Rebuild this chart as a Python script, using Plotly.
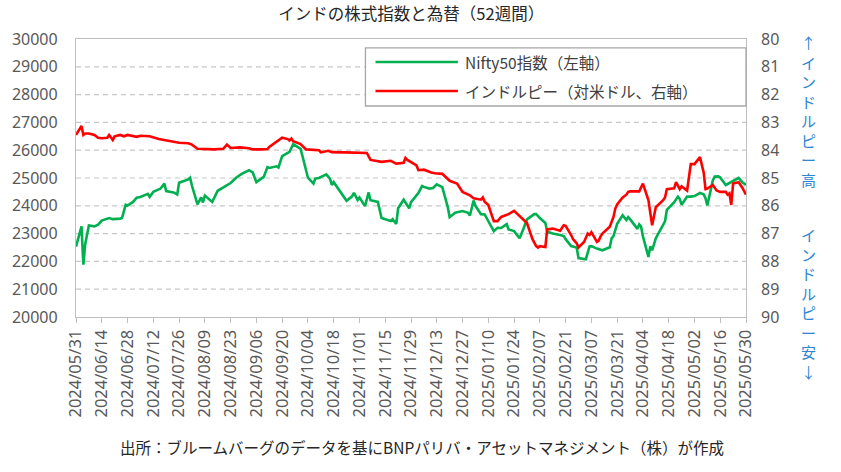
import plotly.graph_objects as go

# Nifty50 index (left axis)
nifty_dates = [
    "2024-05-31", "2024-06-03", "2024-06-04", "2024-06-05", "2024-06-07", "2024-06-10",
    "2024-06-12", "2024-06-14", "2024-06-18", "2024-06-20", "2024-06-24", "2024-06-25",
    "2024-06-27", "2024-06-28", "2024-07-01", "2024-07-03", "2024-07-05", "2024-07-09",
    "2024-07-10", "2024-07-12", "2024-07-16", "2024-07-18", "2024-07-19", "2024-07-23",
    "2024-07-25", "2024-07-26", "2024-07-31", "2024-08-01", "2024-08-02", "2024-08-05",
    "2024-08-07", "2024-08-08", "2024-08-09", "2024-08-13", "2024-08-16", "2024-08-20",
    "2024-08-23", "2024-08-26", "2024-08-29", "2024-09-02", "2024-09-04", "2024-09-06",
    "2024-09-10", "2024-09-12", "2024-09-13", "2024-09-17", "2024-09-18", "2024-09-20",
    "2024-09-24", "2024-09-26", "2024-09-27", "2024-09-30", "2024-10-01", "2024-10-03",
    "2024-10-04", "2024-10-07", "2024-10-08", "2024-10-10", "2024-10-14", "2024-10-16",
    "2024-10-17", "2024-10-18", "2024-10-22", "2024-10-25", "2024-10-28", "2024-10-29",
    "2024-10-31", "2024-11-01", "2024-11-04", "2024-11-06", "2024-11-07", "2024-11-11",
    "2024-11-13", "2024-11-18", "2024-11-19", "2024-11-21", "2024-11-22", "2024-11-25",
    "2024-11-28", "2024-11-29", "2024-12-03", "2024-12-05", "2024-12-06", "2024-12-09",
    "2024-12-11", "2024-12-13", "2024-12-16", "2024-12-18", "2024-12-19", "2024-12-20",
    "2024-12-23", "2024-12-27", "2024-12-30", "2024-12-31", "2025-01-02", "2025-01-03",
    "2025-01-06", "2025-01-08", "2025-01-10", "2025-01-13", "2025-01-15", "2025-01-17",
    "2025-01-20", "2025-01-21", "2025-01-24", "2025-01-27", "2025-01-29", "2025-01-31",
    "2025-02-04", "2025-02-05", "2025-02-07", "2025-02-10", "2025-02-11", "2025-02-14",
    "2025-02-18", "2025-02-20", "2025-02-21", "2025-02-24", "2025-02-27", "2025-02-28",
    "2025-03-04", "2025-03-05", "2025-03-06", "2025-03-07", "2025-03-10", "2025-03-13",
    "2025-03-17", "2025-03-18", "2025-03-19", "2025-03-21", "2025-03-24", "2025-03-26",
    "2025-03-27", "2025-03-28", "2025-04-01", "2025-04-02", "2025-04-03", "2025-04-04",
    "2025-04-07", "2025-04-08", "2025-04-09", "2025-04-11", "2025-04-15", "2025-04-16",
    "2025-04-17", "2025-04-21", "2025-04-23", "2025-04-24", "2025-04-25", "2025-04-28",
    "2025-04-30", "2025-05-02", "2025-05-05", "2025-05-07", "2025-05-08", "2025-05-09",
    "2025-05-12", "2025-05-13", "2025-05-15", "2025-05-16", "2025-05-19", "2025-05-21",
    "2025-05-23", "2025-05-26", "2025-05-28", "2025-05-30",
]
nifty_values = [
    22530, 23260, 21880, 22620, 23290, 23260,
    23320, 23470, 23560, 23520, 23540, 23560,
    24040, 24010, 24140, 24290, 24320, 24430,
    24320, 24500, 24620, 24800, 24530, 24480,
    24410, 24830, 24950, 25010, 24720, 24050,
    24300, 24120, 24370, 24140, 24540, 24700,
    24820, 25010, 25150, 25280, 25200, 24850,
    25040, 25390, 25360, 25420, 25380, 25790,
    25940, 26220, 26180, 26050, 25800, 25250,
    25010, 24800, 24980, 25000, 25130, 24970,
    24750, 24850, 24470, 24180, 24340, 24470,
    24210, 24300, 23990, 24480, 24200, 24140,
    23560, 23450, 23520, 23350, 23910, 24220,
    23910, 24130, 24460, 24710, 24680, 24620,
    24640, 24770, 24670, 24200, 23950, 23590,
    23750, 23810, 23750, 23650, 24190, 24000,
    23700, 23690, 23430, 23090, 23210, 23200,
    23340, 23150, 23090, 22830, 23160, 23510,
    23700, 23700, 23560, 23380, 23070, 23000,
    22950, 22910, 22800, 22550, 22500, 22120,
    22080, 22340, 22540, 22550, 22460, 22400,
    22510, 22830, 22910, 23350, 23660, 23490,
    23590, 23520, 23170, 23330, 23250, 22900,
    22160, 22540, 22400, 22830, 23330, 23440,
    23850, 24130, 24330, 24250, 24040, 24330,
    24330, 24350, 24460, 24410, 24270, 24010,
    24920, 25050, 25060, 25020, 24750, 24820,
    24870, 25000, 24850, 24750,
]

# Indian rupee per US dollar (right axis, reversed)
inr_dates = [
    "2024-05-31", "2024-06-03", "2024-06-04", "2024-06-05", "2024-06-07", "2024-06-10",
    "2024-06-12", "2024-06-14", "2024-06-17", "2024-06-18", "2024-06-20", "2024-06-21",
    "2024-06-24", "2024-06-26", "2024-06-28", "2024-07-03", "2024-07-05", "2024-07-10",
    "2024-07-15", "2024-07-19", "2024-07-24", "2024-07-26", "2024-07-31", "2024-08-02",
    "2024-08-05", "2024-08-09", "2024-08-14", "2024-08-19", "2024-08-21", "2024-08-23",
    "2024-08-28", "2024-09-02", "2024-09-04", "2024-09-09", "2024-09-12", "2024-09-13",
    "2024-09-16", "2024-09-19", "2024-09-20", "2024-09-23", "2024-09-24", "2024-09-25",
    "2024-09-26", "2024-09-30", "2024-10-03", "2024-10-10", "2024-10-11", "2024-10-15",
    "2024-10-17", "2024-10-24", "2024-10-31", "2024-11-05", "2024-11-07", "2024-11-11",
    "2024-11-13", "2024-11-18", "2024-11-21", "2024-11-25", "2024-11-26", "2024-11-27",
    "2024-12-02", "2024-12-03", "2024-12-06", "2024-12-10", "2024-12-12", "2024-12-16",
    "2024-12-18", "2024-12-19", "2024-12-20", "2024-12-24", "2024-12-27", "2024-12-31",
    "2025-01-02", "2025-01-06", "2025-01-07", "2025-01-08", "2025-01-10", "2025-01-13",
    "2025-01-15", "2025-01-17", "2025-01-21", "2025-01-24", "2025-01-27", "2025-01-30",
    "2025-01-31", "2025-02-03", "2025-02-05", "2025-02-06", "2025-02-07", "2025-02-10",
    "2025-02-11", "2025-02-14", "2025-02-18", "2025-02-20", "2025-02-21", "2025-02-24",
    "2025-02-25", "2025-02-27", "2025-02-28", "2025-03-03", "2025-03-05", "2025-03-06",
    "2025-03-07", "2025-03-10", "2025-03-11", "2025-03-12", "2025-03-13", "2025-03-17",
    "2025-03-18", "2025-03-19", "2025-03-20", "2025-03-21", "2025-03-24", "2025-03-26",
    "2025-03-27", "2025-03-28", "2025-04-02", "2025-04-04", "2025-04-07", "2025-04-08",
    "2025-04-09", "2025-04-11", "2025-04-15", "2025-04-16", "2025-04-17", "2025-04-21",
    "2025-04-22", "2025-04-24", "2025-04-25", "2025-04-28", "2025-04-29", "2025-04-30",
    "2025-05-02", "2025-05-05", "2025-05-07", "2025-05-08", "2025-05-09", "2025-05-12",
    "2025-05-14", "2025-05-16", "2025-05-19", "2025-05-20", "2025-05-21", "2025-05-22",
    "2025-05-23", "2025-05-26", "2025-05-28", "2025-05-30",
]
inr_values = [
    83.45, 83.13, 83.45, 83.40, 83.40, 83.45,
    83.55, 83.57, 83.55, 83.45, 83.63, 83.50,
    83.45, 83.50, 83.45, 83.52, 83.48, 83.50,
    83.60, 83.65, 83.70, 83.73, 83.75, 83.80,
    83.95, 83.97, 83.97, 83.95, 83.80, 83.92,
    83.90, 83.93, 83.97, 83.97, 83.96, 83.88,
    83.75, 83.60, 83.55, 83.60, 83.65, 83.58,
    83.68, 83.78, 83.97, 84.00, 84.08, 84.02,
    84.07, 84.08, 84.08, 84.10, 84.35, 84.38,
    84.42, 84.38, 84.48, 84.45, 84.28, 84.35,
    84.55, 84.72, 84.70, 84.80, 84.83, 84.85,
    84.97, 85.05, 85.10, 85.20, 85.50, 85.62,
    85.73, 85.78, 85.70, 85.85, 85.97, 86.55,
    86.55, 86.40, 86.30, 86.18, 86.38, 86.55,
    86.62, 87.20, 87.45, 87.50, 87.45, 87.48,
    86.85, 86.82, 86.90, 86.70, 86.72, 87.05,
    87.20, 87.35, 87.50, 87.30, 87.00, 87.05,
    86.95, 87.30, 87.25, 87.10, 87.00, 86.75,
    86.60, 86.40, 86.10, 85.95, 85.70, 85.60,
    85.50, 85.48, 85.48, 85.20, 85.80, 86.25,
    86.70, 86.05, 85.80, 85.70, 85.40, 85.37,
    85.15, 85.40, 85.30, 85.45, 85.00, 84.50,
    84.50, 84.25, 84.80, 85.40, 85.38, 85.25,
    85.45, 85.50, 85.50, 85.60, 85.55, 85.97,
    85.20, 85.15, 85.35, 85.60,
]

tick_labels = [
    "2024/05/31", "2024/06/14", "2024/06/28", "2024/07/12", "2024/07/26", "2024/08/09",
    "2024/08/23", "2024/09/06", "2024/09/20", "2024/10/04", "2024/10/18", "2024/11/01",
    "2024/11/15", "2024/11/29", "2024/12/13", "2024/12/27", "2025/01/10", "2025/01/24",
    "2025/02/07", "2025/02/21", "2025/03/07", "2025/03/21", "2025/04/04", "2025/04/18",
    "2025/05/02", "2025/05/16", "2025/05/30",
]
tick_vals = [t.replace("/", "-") for t in tick_labels]
left_ticks = list(range(20000, 30001, 1000))

GREEN = "#00B050"
RED = "#FF0000"
BLUE = "#2E86D1"
GREY_TXT = "#595959"
JP = "Noto Sans CJK JP"

fig = go.Figure()
fig.add_trace(go.Scatter(x=nifty_dates, y=nifty_values, mode="lines",
                         line=dict(color=GREEN, width=2.6), name="Nifty50指数（左軸）"))
fig.add_trace(go.Scatter(x=inr_dates, y=inr_values, mode="lines", yaxis="y2",
                         line=dict(color=RED, width=2.6), name="インドルピー（対米ドル、右軸）"))

fig.update_layout(
    width=841, height=472, autosize=False,
    margin=dict(l=70, r=95, t=39, b=155),
    paper_bgcolor="white", plot_bgcolor="white",
    showlegend=False,
    font=dict(family=JP, color=GREY_TXT),
    title=dict(text="インドの株式指数と為替（52週間）", x=0.489, y=0.97,
               xanchor="center", yanchor="middle",
               font=dict(family=JP, size=16.5, color="#262626")),
    xaxis=dict(
        range=["2024-05-31", "2025-05-30"],
        tickvals=tick_vals, ticktext=tick_labels, tickangle=-90,
        tickfont=dict(family="Noto Sans", size=16.5, color=GREY_TXT),
        ticks="outside", ticklen=5, tickcolor="#BFBFBF",
        showgrid=False, showline=True, linecolor="#BFBFBF", linewidth=1.3, mirror=True,
        zeroline=False,
    ),
    yaxis=dict(
        range=[20000, 30000], tickvals=left_ticks, tickformat="d",
        tickfont=dict(family="Noto Sans", size=16, color=GREY_TXT),
        ticklabelstandoff=14,
        showgrid=False,
        showline=True, linecolor="#BFBFBF", linewidth=1.3, mirror=True,
        zeroline=False,
    ),
    yaxis2=dict(
        range=[90, 80], dtick=1, overlaying="y", side="right",
        tickfont=dict(family="Noto Sans", size=16, color=GREY_TXT),
        ticklabelstandoff=14,
        showgrid=False, zeroline=False,
    ),
)

# dashed horizontal gridlines at the left-axis ticks
for v in left_ticks[1:-1]:
    fig.add_shape(type="line", xref="paper", yref="y", x0=0, x1=1, y0=v, y1=v,
                  line=dict(color="#C8C8C8", width=1.2, dash="5px,4px"), layer="below")

# legend drawn as a boxed key in the upper right of the plot
fig.add_shape(type="rect", xref="paper", yref="paper", x0=0.432, x1=1.0, y0=0.759, y1=0.968,
              line=dict(color="#A6A6A6", width=1.3), fillcolor="white", layer="above")
legend_rows = [(GREEN, 0.917, "Nifty50指数（左軸）"), (RED, 0.813, "インドルピー（対米ドル、右軸）")]
for color, ypos, label in legend_rows:
    fig.add_shape(type="line", xref="paper", yref="paper", x0=0.447, x1=0.570, y0=ypos, y1=ypos,
                  line=dict(color=color, width=2.6), layer="above")
    fig.add_annotation(x=0.577, y=ypos, xref="paper", yref="paper", text=label, showarrow=False,
                       xanchor="left", yanchor="middle", font=dict(family=JP, size=15.5, color="#404040"))

# vertical notes beside the right axis
fig.add_annotation(x=1.093, y=0.741, xref="paper", yref="paper", showarrow=False,
                   text="<br>".join("↑インドルピー高"), xanchor="center", yanchor="middle",
                   font=dict(family=JP, size=15, color=BLUE))
fig.add_annotation(x=1.093, y=0.050, xref="paper", yref="paper", showarrow=False,
                   text="<br>".join("インドルピー安↓"), xanchor="center", yanchor="middle",
                   font=dict(family=JP, size=15, color=BLUE))

# source note
fig.add_annotation(x=0.516, y=-0.468, xref="paper", yref="paper", showarrow=False,
                   text="出所：ブルームバーグのデータを基にBNPパリバ・アセットマネジメント（株）が作成",
                   xanchor="center", yanchor="middle", font=dict(family=JP, size=15.5, color="#262626"))

fig.write_html("out.html", config={"displayModeBar": False},
               post_script="document.body.style.margin='0';")
